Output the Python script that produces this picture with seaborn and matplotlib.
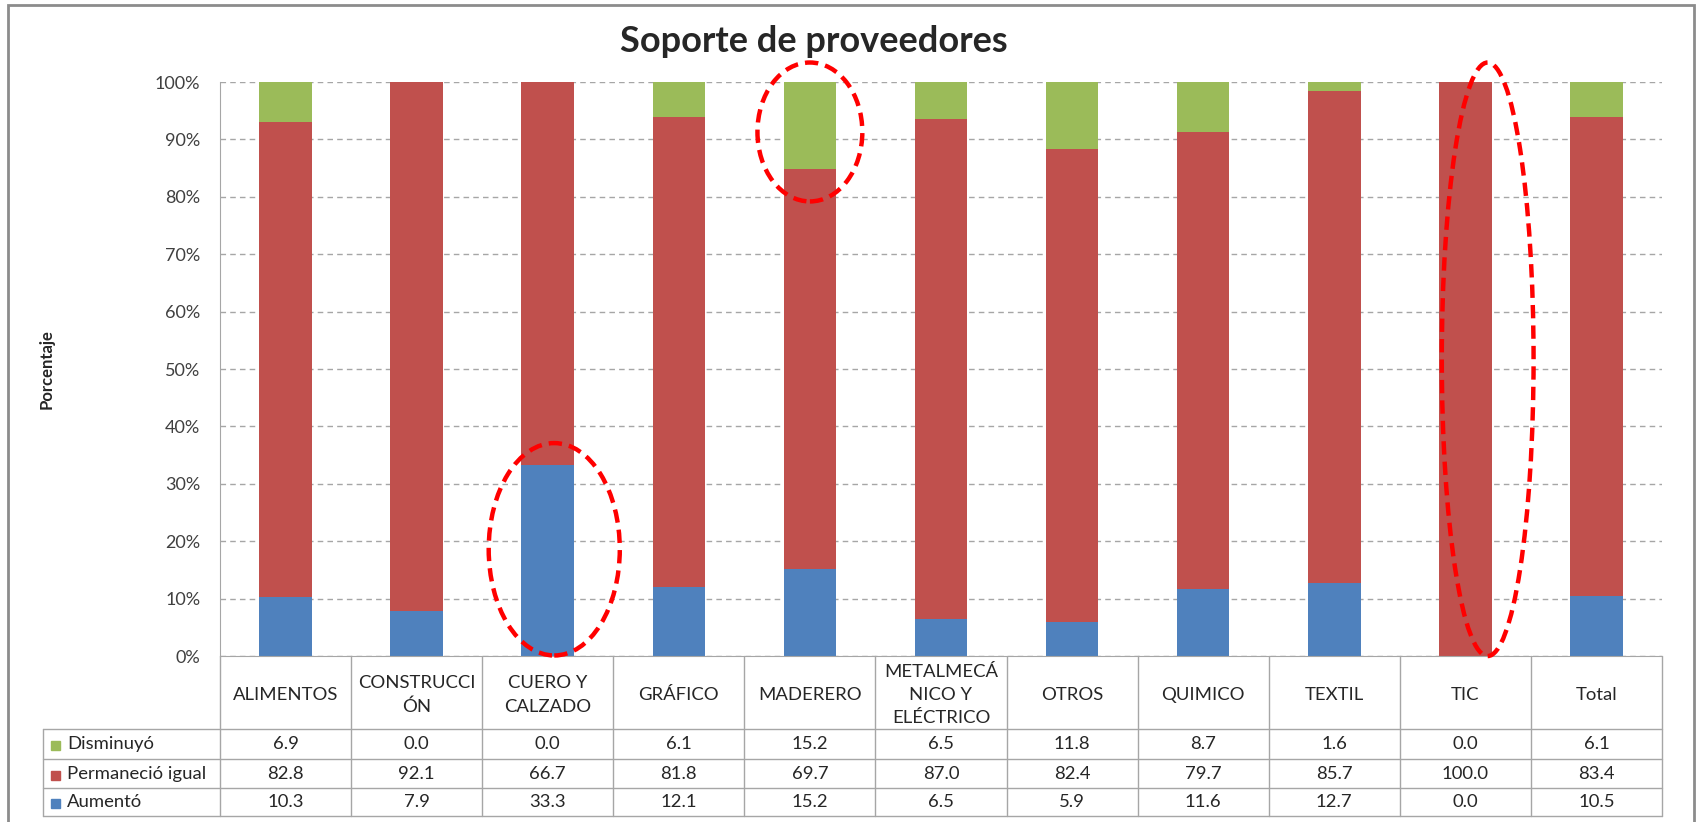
import matplotlib
matplotlib.use('Agg')
import matplotlib.pyplot as plt
import matplotlib.transforms as mtransforms
from matplotlib.patches import Ellipse, Rectangle
import numpy as np
import pandas as pd
import seaborn as sns

categorias = ['ALIMENTOS', 'CONSTRUCCI\nÓN', 'CUERO Y\nCALZADO', 'GRÁFICO', 'MADERERO',
              'METALMECÁ\nNICO Y\nELÉCTRICO', 'OTROS', 'QUIMICO', 'TEXTIL', 'TIC', 'Total']
disminuyo = [6.9, 0.0, 0.0, 6.1, 15.2, 6.5, 11.8, 8.7, 1.6, 0.0, 6.1]
permanecio = [82.8, 92.1, 66.7, 81.8, 69.7, 87.0, 82.4, 79.7, 85.7, 100.0, 83.4]
aumento = [10.3, 7.9, 33.3, 12.1, 15.2, 6.5, 5.9, 11.6, 12.7, 0.0, 10.5]
series = ['Disminuyó', 'Permaneció igual', 'Aumentó']
colores = {'Disminuyó': '#9BBB59', 'Permaneció igual': '#C0504D', 'Aumentó': '#4F81BD'}

df = pd.DataFrame({'cat': categorias, 'Disminuyó': disminuyo,
                   'Permaneció igual': permanecio, 'Aumentó': aumento})
df['top_aum'] = df['Aumentó']
df['top_perm'] = df['Aumentó'] + df['Permaneció igual']
df['top_dis'] = df['top_perm'] + df['Disminuyó']

sns.set_style('white')
plt.rcParams['font.family'] = ['Lato', 'DejaVu Sans']

fig = plt.figure(figsize=(17.01, 8.22), dpi=100)
ax = fig.add_axes([0.1293, 0.2019, 0.8478, 0.6983])

# stacked bars drawn back to front with cumulative heights
for col, s in [('top_dis', 'Disminuyó'), ('top_perm', 'Permaneció igual'), ('top_aum', 'Aumentó')]:
    sns.barplot(data=df, x='cat', y=col, color=colores[s], saturation=1, width=0.4,
                order=categorias, ax=ax, errorbar=None, linewidth=0)

ax.set_ylim(0, 100)
ax.set_xlim(-0.5, len(categorias) - 0.5)
ax.set_yticks(np.arange(0, 101, 10))
ax.set_yticklabels([f'{v}%' for v in range(0, 101, 10)], fontsize=13, color='#404040')
ax.yaxis.grid(True, linestyle=(0, (4, 3)), color='#A6A6A6', linewidth=1)
ax.set_axisbelow(True)
ax.set_xticks([])
ax.set_xlabel('')
ax.set_ylabel('Porcentaje', fontsize=12, fontweight='bold', labelpad=72)
ax.tick_params(axis='y', length=0, pad=14)
for sp in ['top', 'right']:
    ax.spines[sp].set_visible(False)
ax.spines['left'].set_color('#A6A6A6')
ax.spines['bottom'].set_color('#A6A6A6')

fig.text(0.4786, 0.950, 'Soporte de proveedores', ha='center', va='center',
         fontsize=26, fontweight='bold')

# red dashed highlight ellipses
for cx, cy, w, h in [(2.05, 18.6, 1.0, 37.0), (4.0, 91.3, 0.8, 24.2), (9.17, 51.7, 0.7, 103.4)]:
    ax.add_patch(Ellipse((cx, cy), w, h, fill=False, edgecolor='#FF0000', linewidth=3.2,
                         linestyle=(0, (3, 1.6)), clip_on=False, zorder=5))

# data table beneath the plot
tr = mtransforms.blended_transform_factory(ax.transData, fig.transFigure)
line_c = '#A6A6A6'
y_top = 0.2019
y_rows = [0.1131, 0.0766, 0.0414, 0.0073]
x_leg = 0.0253
n = len(categorias)
for y in y_rows:
    fig.add_artist(plt.Line2D([x_leg, 0.9771], [y, y], color=line_c, lw=1, transform=fig.transFigure))
fig.add_artist(plt.Line2D([x_leg, x_leg], [y_rows[0], y_rows[-1]], color=line_c, lw=1,
                          transform=fig.transFigure))
for b in np.arange(-0.5, n, 1.0):
    fig.add_artist(plt.Line2D([b, b], [y_top, y_rows[-1]], color=line_c, lw=1, transform=tr))

for i, c in enumerate(categorias):
    fig.text(i, (y_top + y_rows[0]) / 2 - 0.003, c, transform=tr, ha='center', va='center',
             fontsize=13.3, color='#262626', linespacing=1.55)

row_vals = [disminuyo, permanecio, aumento]
for r, s in enumerate(series):
    yc = (y_rows[r] + y_rows[r + 1]) / 2
    fig.add_artist(Rectangle((0.0300, yc - 0.0075), 0.0053, 0.011, color=colores[s],
                             transform=fig.transFigure))
    fig.text(0.0394, yc, s, ha='left', va='center', fontsize=13.3, color='#262626')
    for i, v in enumerate(row_vals[r]):
        fig.text(i, yc, f'{v:.1f}', transform=tr, ha='center', va='center',
                 fontsize=13.3, color='#262626')

# outer chart frame
fig.add_artist(Rectangle((0.0047, -0.01), 0.9912, 1.004, fill=False, edgecolor='#8C8C8C',
                         lw=2, transform=fig.transFigure))

fig.savefig('out.png', dpi=100)
